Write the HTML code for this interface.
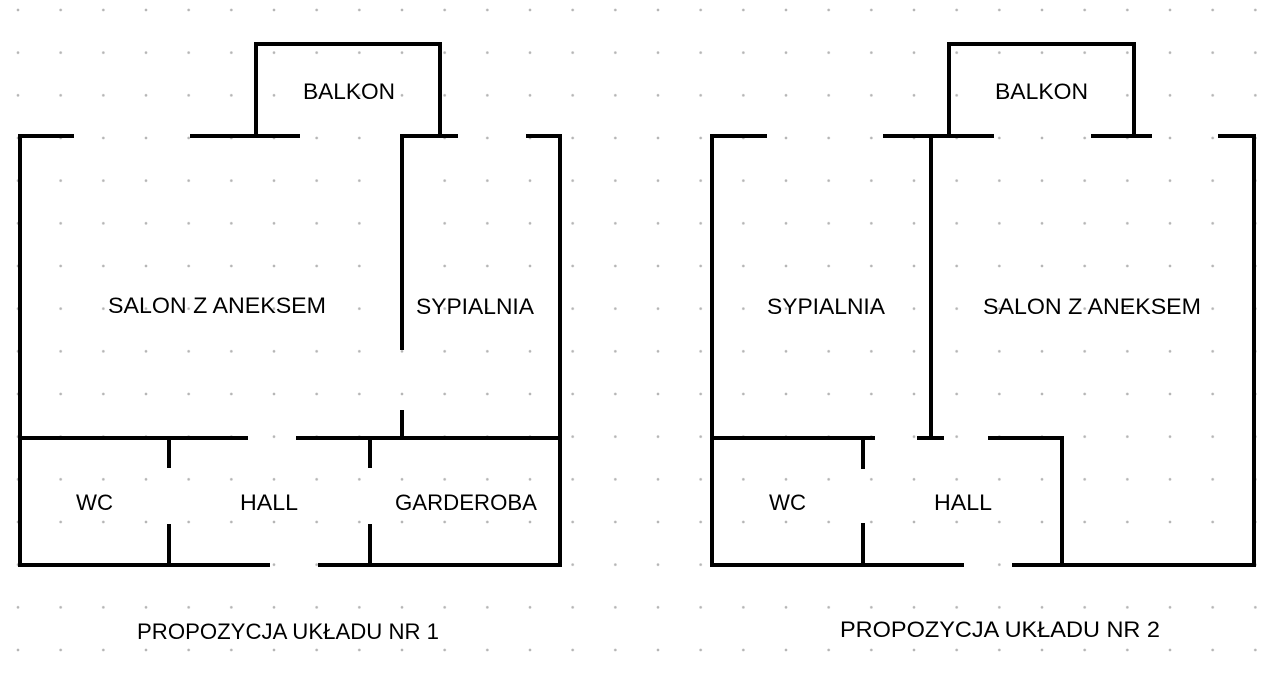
<!DOCTYPE html>
<html><head><meta charset="utf-8"><style>
html,body{margin:0;padding:0;background:#fff;}
svg{display:block;}
text{font-family:"Liberation Sans",Arial,sans-serif;font-size:22px;fill:#000;}
</style></head><body>
<svg width="1280" height="682" viewBox="0 0 1280 682" xmlns="http://www.w3.org/2000/svg">
<defs>
<pattern id="dots" x="-3.33" y="-11.33" width="42.667" height="42.667" patternUnits="userSpaceOnUse">
<circle cx="21.33" cy="21.33" r="1.3" fill="#b5b5b5"/>
</pattern>
</defs>
<rect width="1280" height="682" fill="url(#dots)"/>
<g stroke="#000" stroke-width="4" fill="none" stroke-linecap="square">
<path d="M72 136 H20 V565 H268"/>
<path d="M320 565 H560 V136 H528"/>
<path d="M192 136 H298"/>
<path d="M256 136 V44 H440 V136"/>
<path d="M456 136 H402 V348"/>
<path d="M402 412 V438"/>
<path d="M20 438 H246"/>
<path d="M298 438 H560"/>
<path d="M169 438 V466"/>
<path d="M169 526 V565"/>
<path d="M370 438 V466"/>
<path d="M370 526 V565"/>
<path d="M765 136 H712 V565 H962"/>
<path d="M1014 565 H1254 V136 H1220"/>
<path d="M885 136 H992"/>
<path d="M949 136 V44 H1134 V136"/>
<path d="M1093 136 H1150"/>
<path d="M931 136 V438"/>
<path d="M919 438 H942"/>
<path d="M712 438 H873"/>
<path d="M990 438 H1062 V565"/>
<path d="M863 438 V467"/>
<path d="M863 525 V565"/>
</g>
<g>
<text x="303" y="99" textLength="92" lengthAdjust="spacingAndGlyphs">BALKON</text>
<text x="108" y="313" textLength="218" lengthAdjust="spacingAndGlyphs">SALON Z ANEKSEM</text>
<text x="416" y="314" textLength="118" lengthAdjust="spacingAndGlyphs">SYPIALNIA</text>
<text x="76" y="510" textLength="37" lengthAdjust="spacingAndGlyphs">WC</text>
<text x="240" y="510" textLength="58" lengthAdjust="spacingAndGlyphs">HALL</text>
<text x="395" y="510" textLength="142" lengthAdjust="spacingAndGlyphs">GARDEROBA</text>
<text x="137" y="639" textLength="302" lengthAdjust="spacingAndGlyphs">PROPOZYCJA UKŁADU NR 1</text>
<text x="995" y="99" textLength="93" lengthAdjust="spacingAndGlyphs">BALKON</text>
<text x="767" y="314" textLength="118" lengthAdjust="spacingAndGlyphs">SYPIALNIA</text>
<text x="983" y="314" textLength="218" lengthAdjust="spacingAndGlyphs">SALON Z ANEKSEM</text>
<text x="769" y="510" textLength="37" lengthAdjust="spacingAndGlyphs">WC</text>
<text x="934" y="510" textLength="58" lengthAdjust="spacingAndGlyphs">HALL</text>
<text x="840" y="637" textLength="320" lengthAdjust="spacingAndGlyphs">PROPOZYCJA UKŁADU NR 2</text>
</g>
</svg>
</body></html>
